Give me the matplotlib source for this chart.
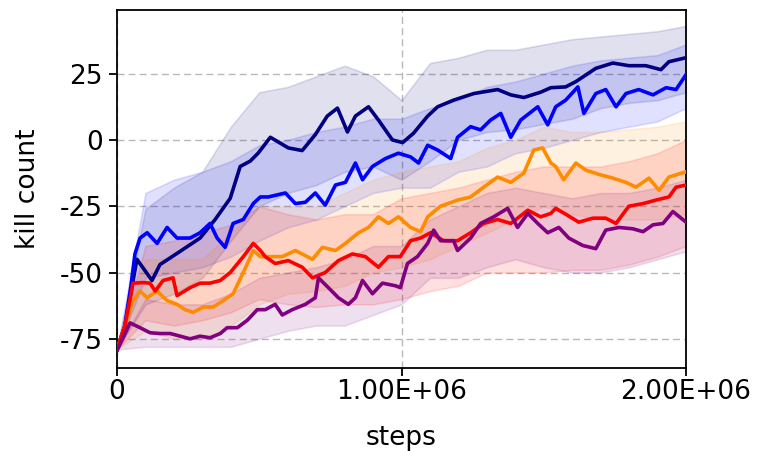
import numpy as np
import matplotlib
matplotlib.use("Agg")
import matplotlib.pyplot as plt

plt.rcParams["axes.unicode_minus"] = False

# ---- data (x in thousands of steps) ----
navy_k = [0, 28, 70, 123, 151, 222, 292, 345, 398, 433, 468, 496, 539, 602, 651, 697, 739, 775,
          810, 838, 884, 919, 968, 1004, 1042, 1092, 1127, 1183, 1254, 1338, 1384, 1430, 1489,
          1525, 1577, 1613, 1683, 1743, 1799, 1859, 1912, 1940, 2000]
navy_v = [-79, -70, -45, -53, -47, -42, -37, -30, -22, -10, -8, -5, 1, -3, -4, 2, 9, 12,
          3, 9, 12.5, 7.5, 0, -1, 2.5, 9, 12.5, 15, 17.5, 19, 17, 16, 18,
          19.7, 20, 22, 27, 29, 28, 28, 26.5, 29.5, 31]

blue_k = [0, 28, 49, 63, 81, 106, 141, 176, 211, 257, 292, 327, 352, 380, 408, 444, 479, 504,
          532, 592, 627, 662, 697, 732, 768, 803, 838, 863, 898, 944, 989, 1032, 1060, 1092,
          1127, 1173, 1197, 1243, 1278, 1313, 1349, 1384, 1419, 1479, 1514, 1542, 1577, 1620,
          1641, 1683, 1718, 1754, 1789, 1834, 1884, 1930, 1965, 2000]
blue_v = [-79, -70, -55, -43, -37, -35, -39, -33, -37, -37, -35, -31.5, -37, -40.5, -31.5, -30, -24, -21.5,
          -21.5, -20, -24, -23.5, -20, -24.6, -17, -16, -8.7, -15, -10, -7, -5, -6.4, -8.7, -2,
          -3.8, -7, 1, 5, 3.8, 7.5, 10, 1, 7.5, 12.5, 5.7, 12.5, 15, 20,
          10, 17.5, 19, 12.5, 17.5, 19, 17, 19.7, 19, 24.6]

orange_k = [0, 28, 56, 81, 106, 141, 176, 211, 239, 268, 303, 338, 373, 408, 444, 479, 504, 532,
            581, 627, 687, 722, 768, 803, 849, 884, 919, 954, 989, 1032, 1067, 1092, 1137, 1197,
            1243, 1289, 1338, 1384, 1430, 1465, 1496, 1525, 1542, 1570, 1613, 1648, 1694, 1743,
            1789, 1824, 1870, 1905, 1940, 2000]
orange_v = [-79, -70, -60.6, -57, -59.5, -57, -60.6, -62, -64, -65, -63, -63, -60.6, -58, -50, -41.7, -44, -44,
            -44, -41.7, -45, -40.5, -41.7, -39, -35, -33, -29, -31.5, -29, -33, -34.6, -29, -25, -22.7,
            -21.5, -17.8, -14, -16, -12.5, -3.8, -3, -8.7, -10, -15, -8.7, -11.4, -13, -14.4,
            -16, -17.8, -14.4, -19, -14, -12]

red_k = [0, 28, 46, 56, 92, 116, 134, 162, 197, 211, 257, 292, 327, 363, 398, 444, 479, 504,
         521, 556, 602, 651, 687, 732, 778, 827, 873, 919, 954, 996, 1032, 1067, 1102, 1148,
         1197, 1243, 1289, 1338, 1384, 1444, 1489, 1525, 1542, 1577, 1623, 1673, 1718, 1754,
         1799, 1849, 1894, 1940, 1965, 2000]
red_v = [-79, -70, -60, -54, -53.8, -54, -57, -53, -52, -58.7, -55.7, -54, -54, -53, -50, -44, -39, -41.7,
         -44, -46.6, -45.5, -48, -52, -50, -45.5, -43, -44, -48, -44, -44, -38, -37, -35, -38,
         -38, -35, -31.5, -30, -31.5, -26.5, -29, -27.7, -25.8, -28, -31, -29.5, -29.5, -31.5,
         -25, -24, -22.7, -21.5, -17.8, -17]

purple_k = [0, 46, 81, 116, 151, 187, 222, 257, 292, 327, 363, 387, 423, 458, 493, 521, 556, 581,
            616, 662, 697, 708, 743, 778, 813, 838, 863, 898, 933, 979, 996, 1021, 1056, 1092,
            1113, 1137, 1183, 1197, 1243, 1278, 1324, 1373, 1408, 1444, 1479, 1514, 1553, 1588,
            1637, 1683, 1718, 1764, 1813, 1849, 1884, 1919, 1954, 2000]
purple_v = [-79.5, -69, -70.8, -72.7, -73, -73, -74, -75, -74, -74.6, -73, -70.8, -70.8, -68, -64, -64, -62, -66,
            -64, -62, -59.5, -52, -55.7, -59.5, -62, -59.5, -53, -58, -54, -55, -55.7, -46.6, -44, -39,
            -34, -38, -38, -41.7, -37, -31.5, -29, -25.8, -33, -27.7, -31.5, -35, -33, -37,
            -39.8, -41, -34, -33, -33.5, -34.6, -32, -31.5, -27, -31]

# shaded bands (thousands of steps, every 100k)
band_k = [0, 100, 200, 300, 400, 500, 600, 700, 800, 900, 1000,
          1100, 1200, 1300, 1400, 1500, 1600, 1700, 1800, 1900, 2000]
navy_hi = [-79, -26, -18, -12, 5, 18, 20, 24, 28, 24, 15, 29, 31, 34, 34, 36, 38, 39, 40, 41, 43]
navy_lo = [-79, -62, -58, -52, -38, -25, -20, -17, -12, -10, -15, -8, 0, 3, 4, 6, 8, 12, 14, 15, 18]
blue_hi = [-79, -20, -15, -12, -8, -2, 0, 3, 5, 8, 8, 12, 15, 20, 22, 25, 28, 30, 31, 32, 36]
blue_lo = [-79, -52, -50, -48, -44, -38, -33, -30, -25, -20, -18, -18, -12, -10, -5, -3, 0, 3, 5, 7, 12]
orange_hi = [-79, -45, -45, -45, -35, -25, -25, -25, -20, -15, -12, -10, -8, -3, 0, 5, 3, 3, 4, 5, 7]
orange_lo = [-79, -72, -75, -75, -70, -62, -58, -57, -55, -50, -48, -45, -40, -35, -30, -25, -28, -30, -30, -30, -28]
red_hi = [-79, -40, -38, -35, -32, -25, -28, -30, -28, -28, -22, -20, -18, -15, -12, -10, -10, -10, -8, -5, 0]
red_lo = [-79, -68, -70, -68, -65, -60, -62, -63, -62, -62, -60, -57, -55, -50, -50, -50, -49, -49, -47, -44, -40]
purple_hi = [-79, -60, -62, -62, -58, -52, -50, -48, -45, -40, -40, -30, -25, -20, -18, -20, -22, -20, -20, -18, -15]
purple_lo = [-79, -78, -78, -78, -78, -75, -72, -70, -70, -66, -62, -52, -52, -48, -45, -48, -50, -50, -48, -45, -42]

x_ticks = [0, 1e6, 2e6]
x_ticklabels = ["0", "1.00E+06", "2.00E+06"]
y_ticks = [-75, -50, -25, 0, 25]

series = [
    ("navy", navy_k, navy_v, navy_lo, navy_hi),
    ("blue", blue_k, blue_v, blue_lo, blue_hi),
    ("darkorange", orange_k, orange_v, orange_lo, orange_hi),
    ("red", red_k, red_v, red_lo, red_hi),
    ("purple", purple_k, purple_v, purple_lo, purple_hi),
]

fig = plt.figure(figsize=(7.58, 4.51), dpi=100)
ax = fig.add_axes([117/758, 1-368/451, (686-117)/758, (368-10)/451])

bx = np.array(band_k) * 1000
for color, k, v, lo, hi in series:
    ax.fill_between(bx, lo, hi, facecolor=color, alpha=0.12, edgecolor=color,
                    linewidth=1.2, zorder=1)
for color, k, v, lo, hi in series:
    ax.plot(np.array(k) * 1000, v, color=color, linewidth=2.6, zorder=3)

ax.set_xlim(0, 2e6)
ax.set_ylim(-86, 49)
ax.set_xticks(x_ticks)
ax.set_xticklabels(x_ticklabels)
ax.set_yticks(y_ticks)
ax.grid(True, linestyle=(0, (5, 3)), color="#b8b8b8", linewidth=1.0, zorder=0)
ax.set_axisbelow(True)
ax.tick_params(axis="x", labelsize=19, length=6, width=1.3, pad=2)
ax.tick_params(axis="y", labelsize=19, length=6, width=1.3, pad=4)
for s in ax.spines.values():
    s.set_linewidth(1.3)
ax.set_xlabel("steps", fontsize=19, labelpad=14)
ax.set_ylabel("kill count", fontsize=19, labelpad=14)

fig.savefig("out.png", dpi=100)
